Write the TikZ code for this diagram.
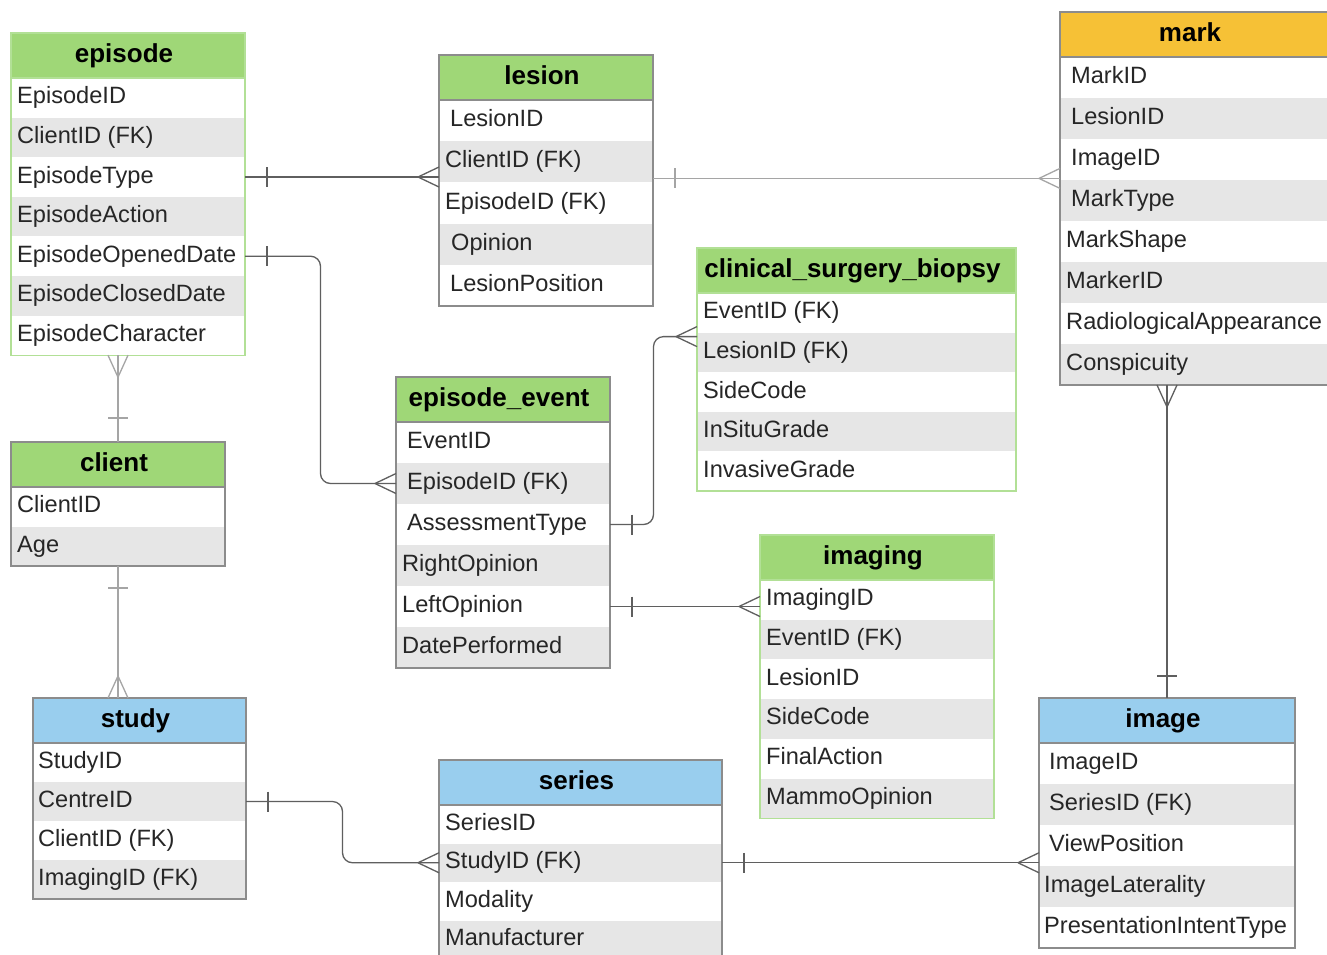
\documentclass[tikz,border=0pt]{standalone}
\usepackage{fontspec}
\setmainfont{Liberation Sans}
\usetikzlibrary{calc}
\definecolor{hdrgreen}{RGB}{159,215,119}
\definecolor{hdrorange}{RGB}{246,193,54}
\definecolor{hdrblue}{RGB}{153,206,238}
\definecolor{rowgray}{RGB}{230,230,230}
\definecolor{bgreen}{RGB}{178,224,150}
\definecolor{bgray}{RGB}{140,140,140}
\definecolor{linedark}{RGB}{95,95,95}
\definecolor{linelight}{RGB}{165,165,165}
\tikzset{
 hdr/.style={rectangle, minimum height=45pt, inner sep=0pt, outer sep=0pt, line width=1.2pt},
 rowbox/.style={rectangle, inner sep=0pt, outer sep=0pt},
 fld/.style={inner sep=0pt, font=\fontsize{23.6}{28}\selectfont, text height=17pt, text depth=5pt, text=black!85},
 ttl/.style={inner sep=0pt, font=\fontsize{26}{30}\selectfont\bfseries, text height=18.5pt, text depth=4pt, xshift=-4pt},
 conn/.style={draw=linedark, line width=1.3pt},
 connl/.style={draw=linelight, line width=1.3pt},
}
% #1 name #2 x #3 y #4 width #5 row height #6 header colour #7 border colour #8 title #9 rows
\newcommand\ertable[9]{%
 \node[hdr, fill=#6, draw=#7, minimum width=#4pt, anchor=north west] (#1) at (#2,#3) {};
 \node[ttl] at (#1.center) {#8};
 \foreach \t/\ind [count=\i] in {#9} {
   \ifodd\i\relax\def\rc{white}\else\def\rc{rowgray}\fi
   \node[rowbox, fill=\rc, minimum width=#4pt, minimum height=#5pt, anchor=north west] (#1-\i) at ($(#1.south west)+(0,{(\i-1)*#5})$) {};
   \node[fld, anchor=west] at ([xshift=\ind pt]#1-\i.west) {\t};
   \xdef\lastrow{\i}
 }
 \draw[draw=#7, line width=1.2pt] (#1.north west) rectangle (#1-\lastrow.south east);
 \draw[draw=#7, line width=1.2pt] (#1.south west) -- (#1.south east);
}
% crow's feet: box on the right / below / above of the point
\newcommand\crowE[2]{\draw[#1] (#2) ++(-21,0) -- ++(21,-10) ++(-21,10) -- ++(21,10);}
\newcommand\crowS[2]{\draw[#1] (#2) ++(0,-22) -- ++(-10,22) ++(10,-22) -- ++(10,22);}
\newcommand\crowN[2]{\draw[#1] (#2) ++(0,22) -- ++(-10,-22) ++(10,22) -- ++(10,-22);}
% one-bars
\newcommand\tickR[2]{\draw[#1] (#2) ++(22,-10) -- ++(0,20);}
\newcommand\tickV[3]{\draw[#1] (#2) ++(-10,#3) -- ++(20,0);}
\begin{document}
\begin{tikzpicture}[x=1pt,y=-1pt]
\useasboundingbox (0,0) rectangle (1327,954);
\clip (0,0) rectangle (1327,954);
\fill[white] (0,0) rectangle (1327,954);

\ertable{episode}{11}{33}{234}{39.6}{hdrgreen}{bgreen}{episode}{EpisodeID/6,{ClientID (FK)}/6,EpisodeType/6,EpisodeAction/6,EpisodeOpenedDate/6,EpisodeClosedDate/6,EpisodeCharacter/6}

\ertable{lesion}{439}{55}{214}{41.2}{hdrgreen}{bgray}{lesion}{LesionID/11,{ClientID (FK)}/6,{EpisodeID (FK)}/6,Opinion/12,LesionPosition/11}

\ertable{mark}{1060}{12}{268}{41}{hdrorange}{bgray}{mark}{MarkID/11,LesionID/11,ImageID/11,MarkType/11,MarkShape/6,MarkerID/6,RadiologicalAppearance/6,Conspicuity/6}

\ertable{csb}{697}{248}{319}{39.6}{hdrgreen}{bgreen}{clinical\_surgery\_biopsy}{{EventID (FK)}/6,{LesionID (FK)}/6,SideCode/6,InSituGrade/6,InvasiveGrade/6}

\ertable{ee}{396}{377}{214}{41}{hdrgreen}{bgray}{episode\_event}{EventID/11,{EpisodeID (FK)}/11,AssessmentType/11,RightOpinion/6,LeftOpinion/6,DatePerformed/6}

\ertable{client}{11}{442}{214}{39.5}{hdrgreen}{bgray}{client}{ClientID/6,Age/6}

\ertable{imaging}{760}{535}{234}{39.7}{hdrgreen}{bgreen}{imaging}{ImagingID/6,{EventID (FK)}/6,LesionID/6,SideCode/6,FinalAction/6,MammoOpinion/6}

\ertable{study}{33}{698}{213}{39}{hdrblue}{bgray}{study}{StudyID/5,CentreID/5,{ClientID (FK)}/5,{ImagingID (FK)}/5}

\ertable{series}{439}{760}{283}{38.5}{hdrblue}{bgray}{series}{SeriesID/6,{StudyID (FK)}/6,Modality/6,Manufacturer/6}

\ertable{image}{1039}{698}{256}{41}{hdrblue}{bgray}{image}{ImageID/10,{SeriesID (FK)}/10,ViewPosition/10,ImageLaterality/5,PresentationIntentType/5}

% episode -> lesion
\draw[conn] (episode-3.east) -- (episode-3.east -| lesion.west);
\tickR{conn}{episode-3.east}
\crowE{conn}{episode-3.east -| lesion.west}

% lesion -> mark
\coordinate (lmS) at ([yshift=4pt]lesion-3.north east);
\draw[connl] (lmS) -- (lmS -| mark.west);
\tickR{connl}{lmS}
\crowE{connl}{lmS -| mark.west}

% episode -> episode_event
\draw[conn, rounded corners=10pt] (episode-5.east) -| ($(episode-5.east)!0.5!(ee-2.west)$) |- (ee-2.west);
\tickR{conn}{episode-5.east}
\crowE{conn}{ee-2.west}

% client -> episode
\draw[connl] (client.north |- episode-7.south) -- (client.north);
\crowN{connl}{client.north |- episode-7.south}
\tickV{connl}{client.north}{-24}

% client -> study
\draw[connl] (client-2.south) -- (client-2.south |- study.north);
\tickV{connl}{client-2.south}{22}
\crowS{connl}{client-2.south |- study.north}

% episode_event -> clinical_surgery_biopsy
\coordinate (csbT) at ([yshift=-4pt]csb-2.north west);
\draw[conn, rounded corners=10pt] (ee-3.east) -| ($(ee-3.east)!0.5!(csbT)$) |- (csbT);
\tickR{conn}{ee-3.east}
\crowE{conn}{csbT}

% episode_event -> imaging
\draw[conn] (ee-5.east) -- (ee-5.east -| imaging.west);
\tickR{conn}{ee-5.east}
\crowE{conn}{ee-5.east -| imaging.west}

% mark -> image
\draw[conn] (image.north |- mark-8.south) -- (image.north);
\crowN{conn}{image.north |- mark-8.south}
\tickV{conn}{image.north}{-22}

% study -> series
\draw[conn, rounded corners=10pt] (study-2.east) -| ($(study-2.east)!0.5!(series-2.west)$) |- (series-2.west);
\tickR{conn}{study-2.east}
\crowE{conn}{series-2.west}

% series -> image
\draw[conn] (series-2.east) -- (series-2.east -| image.west);
\tickR{conn}{series-2.east}
\crowE{conn}{series-2.east -| image.west}
\end{tikzpicture}
\end{document}
